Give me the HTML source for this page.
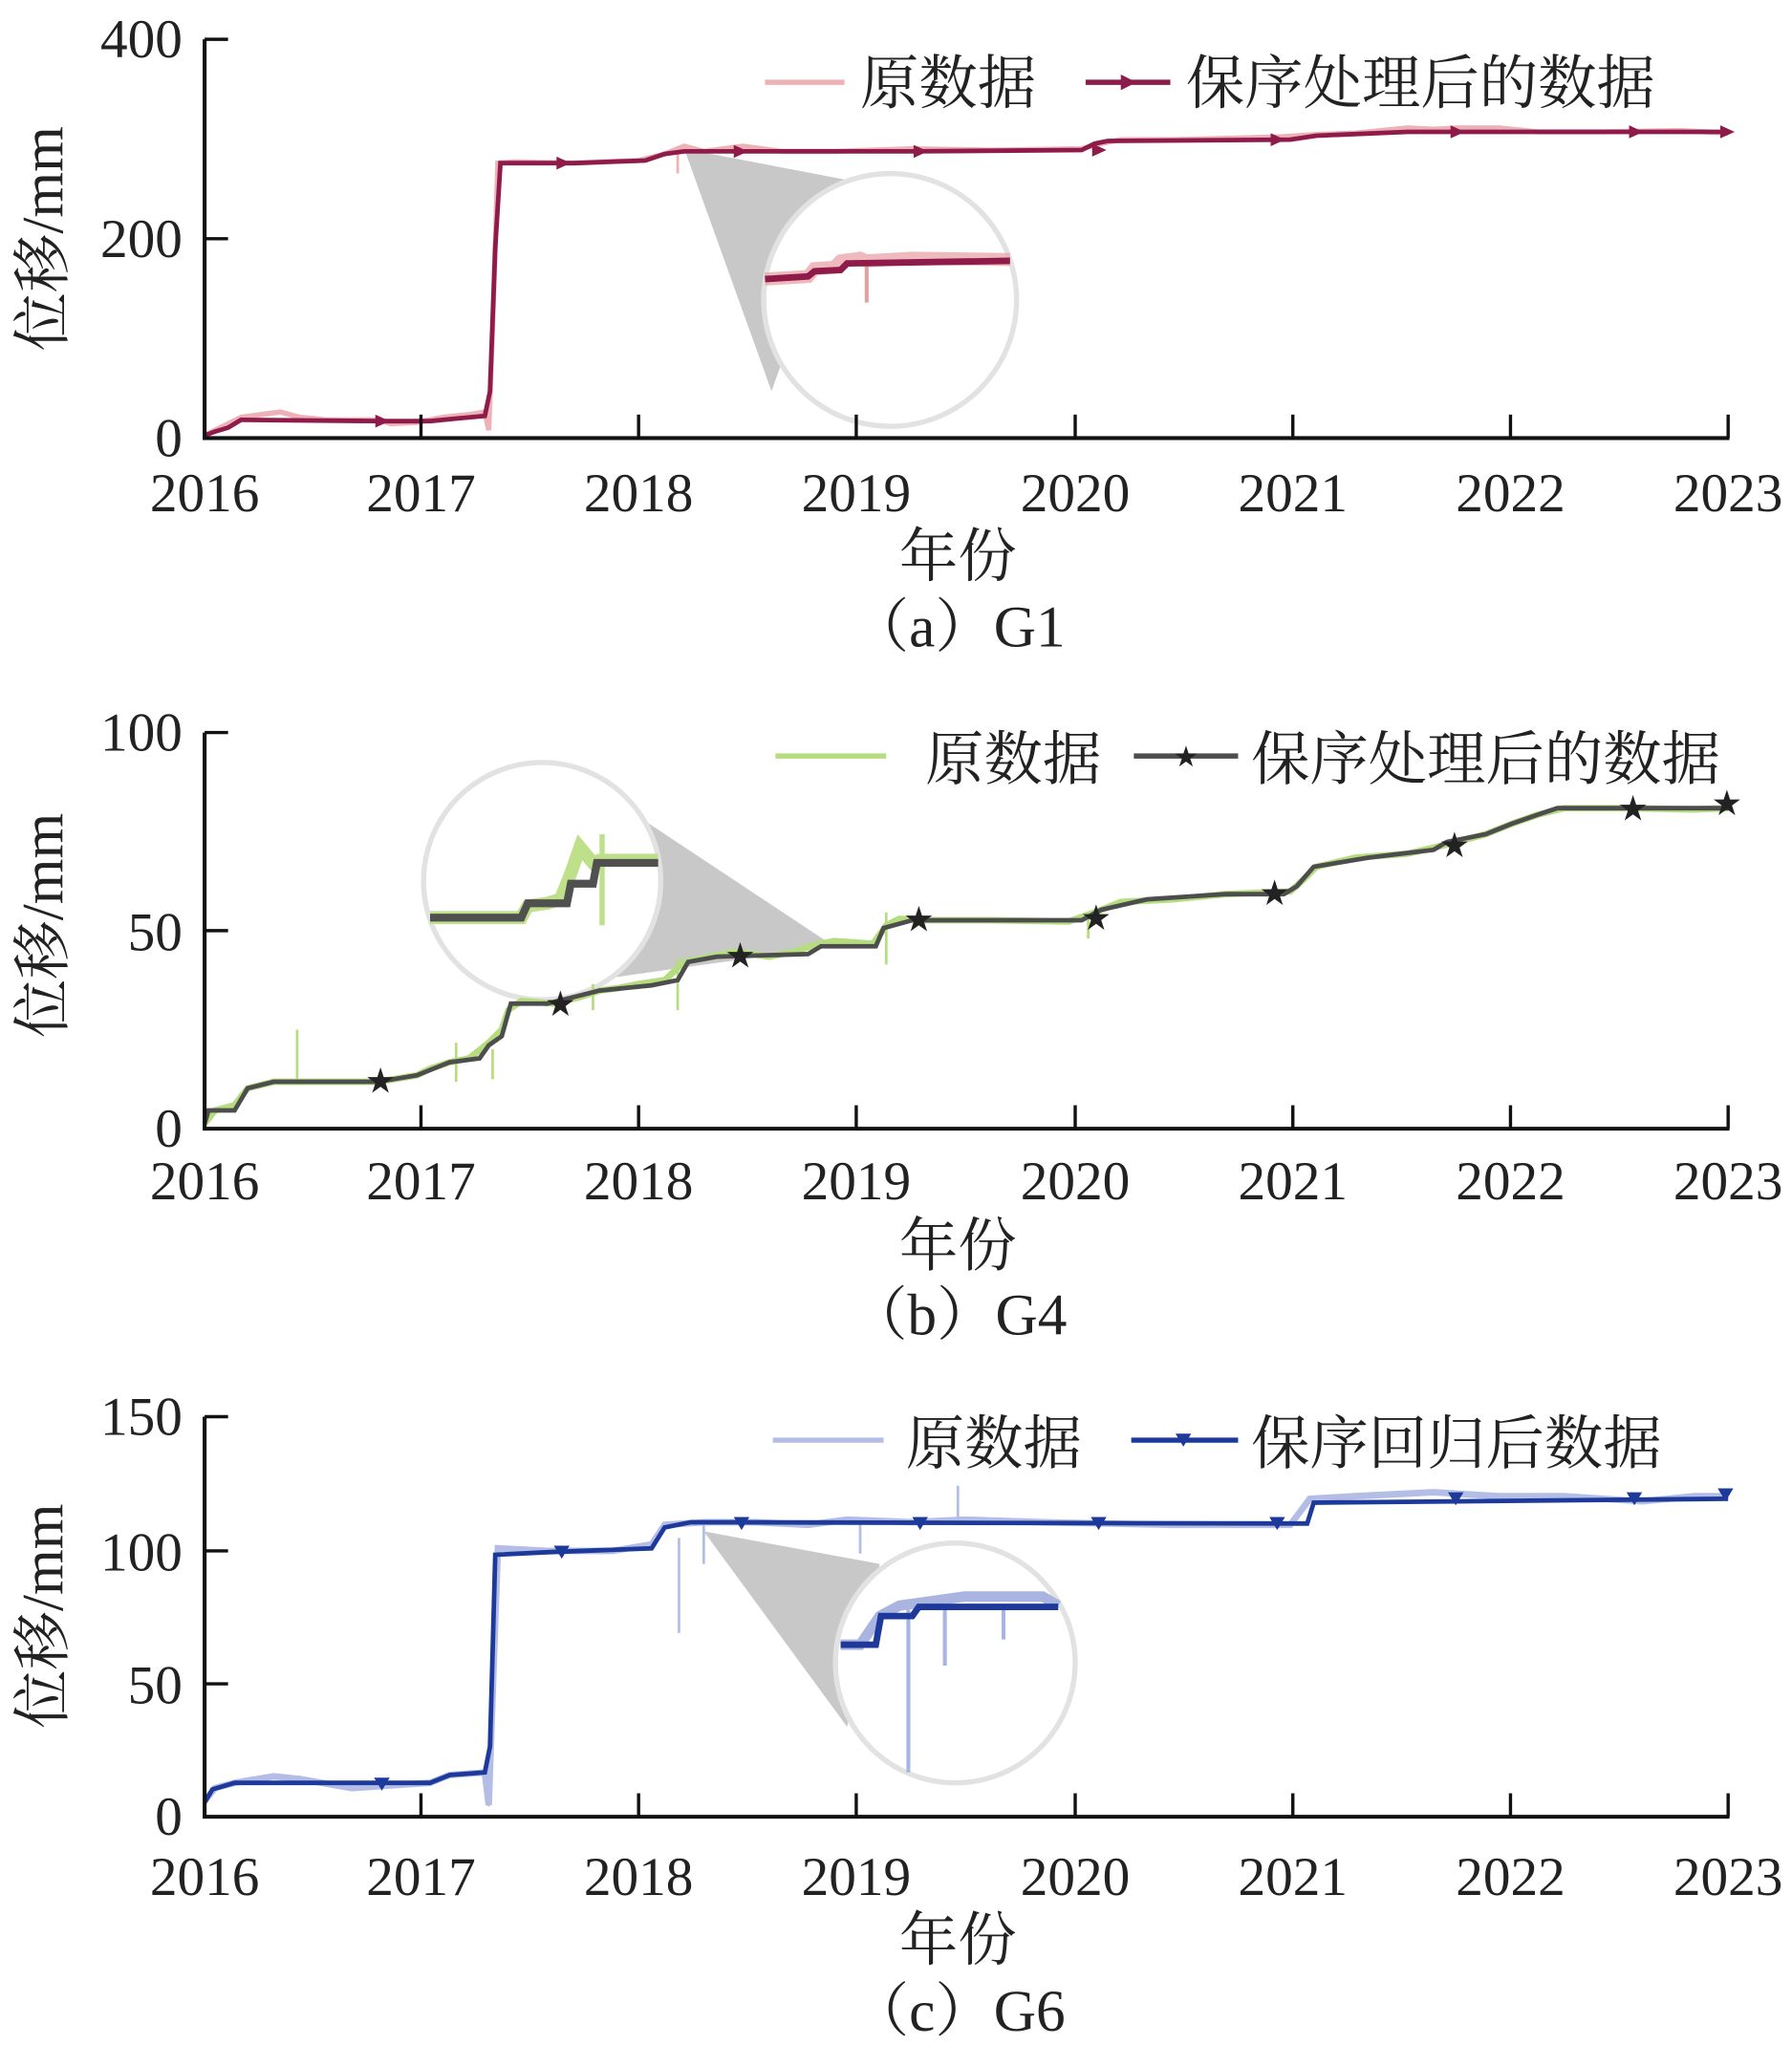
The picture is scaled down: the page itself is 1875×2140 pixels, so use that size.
<!DOCTYPE html>
<html><head><meta charset="utf-8"><style>
html,body{margin:0;padding:0;background:#fff}
svg{display:block}
text{font-family:"Liberation Serif","Noto Serif CJK SC",serif;fill:#222}
.t{font-size:42px}
.l{font-size:45px}
</style></head><body>
<svg width="1875" height="2140" viewBox="0 0 1375 1569" xmlns="http://www.w3.org/2000/svg">

<!-- ========== Panel a ========== -->
<g>
<polygon points="525,114 650,138 592,300" fill="#c8c8c8"/>
<circle cx="683" cy="230" r="97" fill="#fff" stroke="#e2e2e2" stroke-width="4"/>
<polyline points="587,214 620,212 625,206 640,205 645,200 660,198 665,200 700,198 775,199" fill="none" stroke="#eaa9ad" stroke-width="10" opacity="0.8"/>
<line x1="665" y1="200" x2="665" y2="232" stroke="#e0a0a4" stroke-width="3"/>
<polyline points="587,214 620,212 625,208 645,207 650,202 775,200" fill="none" stroke="#8e1b4a" stroke-width="5"/>
<polyline points="157,334 165,330 175,325 185,320 200,318 215,316 230,320 250,322 290,322 300,325 320,324 340,320 360,318 372,316 375,330 378,250 382,125 395,124 440,125 490,123 510,118 520,114 525,112 540,116 570,112 600,116 640,116 700,114 760,115 830,114 845,110 860,107 900,107 980,105 1010,103 1040,102 1080,98 1100,99 1120,98 1150,98 1180,101 1230,101 1290,100 1326,102" fill="none" stroke="#eeb2b6" stroke-width="4"/>
<line x1="520" y1="112" x2="520" y2="133" stroke="#eeb2b6" stroke-width="2"/>
<line x1="375" y1="310" x2="375" y2="330" stroke="#eeb2b6" stroke-width="2"/>
<polyline points="157,334 165,331 175,328 185,322 290,323 330,323 350,321 372,319 376,300 380,190 384,125 440,125 495,123 510,118 525,116 700,116 830,115 840,110 850,108 990,107 1010,104 1080,101 1326,101" fill="none" stroke="#8e1b4a" stroke-width="3.5"/>
<g fill="#8e1b4a">
<path d="M288,318 l11,5 l-11,5z"/><path d="M427,120 l11,5 l-11,5z"/><path d="M563,111 l11,5 l-11,5z"/><path d="M701,111 l11,5 l-11,5z"/><path d="M838,110 l11,5 l-11,5z"/><path d="M975,102 l11,5 l-11,5z"/><path d="M1113,96 l11,5 l-11,5z"/><path d="M1250,96 l11,5 l-11,5z"/><path d="M1320,96 l11,5 l-11,5z"/>
</g>
<path d="M157,30 V336 H1327" fill="none" stroke="#111" stroke-width="3"/>
<g stroke="#111" stroke-width="2.5"><line x1="157" y1="30" x2="175" y2="30"/><line x1="157" y1="183" x2="175" y2="183"/>
<line x1="323" y1="336" x2="323" y2="318"/><line x1="490" y1="336" x2="490" y2="318"/><line x1="657" y1="336" x2="657" y2="318"/><line x1="825" y1="336" x2="825" y2="318"/><line x1="992" y1="336" x2="992" y2="318"/><line x1="1159" y1="336" x2="1159" y2="318"/><line x1="1326" y1="336" x2="1326" y2="318"/></g>
<g class="t" text-anchor="end"><text x="140" y="44">400</text><text x="140" y="197">200</text><text x="140" y="350">0</text></g>
<g class="t" text-anchor="middle"><text x="157" y="392">2016</text><text x="323" y="392">2017</text><text x="490" y="392">2018</text><text x="657" y="392">2019</text><text x="825" y="392">2020</text><text x="992" y="392">2021</text><text x="1159" y="392">2022</text><text x="1326" y="392">2023</text></g>
<text class="l" x="735" y="442" text-anchor="middle">年份</text>
<text class="l" x="735" y="496" text-anchor="middle">（a）G1</text>
<text class="l" transform="translate(48,183) rotate(-90)" text-anchor="middle">位移/mm</text>
<line x1="587" y1="63" x2="648" y2="63" stroke="#eeb2b6" stroke-width="4"/>
<text class="l" x="660" y="79">原数据</text>
<line x1="833" y1="63" x2="898" y2="63" stroke="#8e1b4a" stroke-width="4"/><path d="M860,57 l12,6 l-12,6z" fill="#8e1b4a"/>
<text class="l" x="910" y="79">保序处理后的数据</text>
</g>

<!-- ========== Panel b ========== -->
<g>
<polygon points="640,726 480,620 470,750" fill="#c8c8c8"/>
<circle cx="416" cy="676" r="91" fill="#fff" stroke="#e2e2e2" stroke-width="4"/>
<polyline points="330,704 400,704 405,695 420,693 430,690 438,670 445,650 455,662 460,660 505,660" fill="none" stroke="#bfe08a" stroke-width="10"/>
<line x1="462" y1="640" x2="462" y2="710" stroke="#bfe08a" stroke-width="4"/>
<polyline points="330,704 400,704 405,693 435,693 438,678 455,678 458,662 505,662" fill="none" stroke="#505050" stroke-width="6"/>
<polyline points="157,862 165,852 180,848 190,835 210,830 250,830 290,830 320,825 330,820 345,815 360,812 375,800 385,790 390,775 400,768 425,770 445,765 460,760 475,758 490,755 510,752 525,738 545,734 565,730 590,734 610,730 625,725 640,722 670,724 680,710 690,705 710,706 760,706 820,707 840,700 860,692 900,690 940,686 990,684 1000,675 1010,665 1040,658 1080,655 1110,648 1140,640 1160,632 1180,625 1200,620 1250,620 1300,621 1326,620" fill="none" stroke="#b5dd80" stroke-width="5"/>
<g stroke="#b5dd80" stroke-width="2"><line x1="228" y1="790" x2="228" y2="830"/><line x1="350" y1="800" x2="350" y2="830"/><line x1="378" y1="805" x2="378" y2="828"/><line x1="455" y1="755" x2="455" y2="775"/><line x1="520" y1="735" x2="520" y2="775"/><line x1="680" y1="700" x2="680" y2="740"/><line x1="835" y1="700" x2="835" y2="720"/></g>
<polyline points="157,862 160,852 180,852 190,835 210,830 290,830 320,825 345,815 368,812 375,802 385,795 392,770 420,770 440,765 460,760 500,756 520,752 528,738 550,734 620,732 630,726 672,726 678,712 700,706 830,706 845,698 880,690 940,686 985,686 995,680 1008,665 1050,658 1100,652 1110,646 1140,640 1160,632 1180,625 1195,620 1326,620" fill="none" stroke="#4d4d4d" stroke-width="3.5"/>
<g font-size="22" text-anchor="middle" style="font-family:'DejaVu Sans'"><text x="292" y="837" fill="#4d4d4d">★</text><text x="430" y="778" fill="#4d4d4d">★</text><text x="568" y="741" fill="#4d4d4d">★</text><text x="705" y="713" fill="#4d4d4d">★</text><text x="841" y="712" fill="#4d4d4d">★</text><text x="978" y="693" fill="#4d4d4d">★</text><text x="1116" y="656" fill="#4d4d4d">★</text><text x="1253" y="628" fill="#4d4d4d">★</text><text x="1325" y="624" fill="#4d4d4d">★</text></g>
<path d="M157,562 V866 H1327" fill="none" stroke="#111" stroke-width="3"/>
<g stroke="#111" stroke-width="2.5"><line x1="157" y1="562" x2="175" y2="562"/><line x1="157" y1="714" x2="175" y2="714"/>
<line x1="323" y1="866" x2="323" y2="848"/><line x1="490" y1="866" x2="490" y2="848"/><line x1="657" y1="866" x2="657" y2="848"/><line x1="825" y1="866" x2="825" y2="848"/><line x1="992" y1="866" x2="992" y2="848"/><line x1="1159" y1="866" x2="1159" y2="848"/><line x1="1326" y1="866" x2="1326" y2="848"/></g>
<g class="t" text-anchor="end"><text x="140" y="576">100</text><text x="140" y="729">50</text><text x="140" y="880">0</text></g>
<g class="t" text-anchor="middle"><text x="157" y="920">2016</text><text x="323" y="920">2017</text><text x="490" y="920">2018</text><text x="657" y="920">2019</text><text x="825" y="920">2020</text><text x="992" y="920">2021</text><text x="1159" y="920">2022</text><text x="1326" y="920">2023</text></g>
<text class="l" x="735" y="971" text-anchor="middle">年份</text>
<text class="l" x="735" y="1024" text-anchor="middle">（b）G4</text>
<text class="l" transform="translate(48,710) rotate(-90)" text-anchor="middle">位移/mm</text>
<line x1="595" y1="580" x2="680" y2="580" stroke="#b5dd80" stroke-width="4"/>
<text class="l" x="710" y="598">原数据</text>
<line x1="870" y1="580" x2="950" y2="580" stroke="#4d4d4d" stroke-width="4"/><text x="910" y="588" font-size="22" text-anchor="middle" style="font-family:'DejaVu Sans'" fill="#4d4d4d">★</text>
<text class="l" x="960" y="598">保序处理后的数据</text>
</g>

<!-- ========== Panel c ========== -->
<g>
<polygon points="540,1175 675,1200 650,1325" fill="#c8c8c8"/>
<circle cx="733" cy="1276" r="92" fill="#fff" stroke="#e2e2e2" stroke-width="4"/>
<polyline points="645,1262 660,1262 675,1240 690,1232 740,1225 800,1225 812,1232" fill="none" stroke="#a9b4e0" stroke-width="8"/>
<g stroke="#a9b4e0" stroke-width="3"><line x1="697" y1="1235" x2="697" y2="1360"/><line x1="725" y1="1235" x2="725" y2="1278"/><line x1="770" y1="1232" x2="770" y2="1258"/></g>
<polyline points="645,1262 672,1262 676,1240 700,1240 705,1233 812,1233" fill="none" stroke="#1d3a9a" stroke-width="5"/>
<polyline points="157,1382 165,1372 180,1368 210,1363 230,1365 270,1372 300,1370 330,1368 345,1362 372,1360 375,1385 378,1300 382,1188 420,1190 470,1190 500,1185 510,1170 540,1168 580,1168 620,1170 650,1166 700,1168 740,1166 800,1168 900,1170 990,1170 1005,1150 1040,1148 1100,1145 1150,1148 1200,1148 1260,1152 1300,1148 1326,1148" fill="none" stroke="#b4bde6" stroke-width="5"/>
<g stroke="#b4bde6" stroke-width="2"><line x1="521" y1="1180" x2="521" y2="1253"/><line x1="540" y1="1170" x2="540" y2="1200"/><line x1="660" y1="1170" x2="660" y2="1192"/><line x1="735" y1="1140" x2="735" y2="1170"/><line x1="375" y1="1360" x2="375" y2="1386"/></g>
<polyline points="157,1383 163,1373 180,1368 330,1368 345,1362 372,1360 376,1340 380,1193 420,1191 500,1188 510,1172 530,1168 1003,1169 1008,1153 1326,1150" fill="none" stroke="#1d3a9a" stroke-width="3.5"/>
<g fill="#1d3a9a"><path d="M287,1364 h12 l-6,10z"/><path d="M425,1186 h12 l-6,10z"/><path d="M563,1164 h12 l-6,10z"/><path d="M700,1164 h12 l-6,10z"/><path d="M837,1164 h12 l-6,10z"/><path d="M974,1164 h12 l-6,10z"/><path d="M1111,1145 h12 l-6,10z"/><path d="M1248,1145 h12 l-6,10z"/><path d="M1318,1142 h12 l-6,10z"/></g>
<path d="M157,1087 V1394 H1327" fill="none" stroke="#111" stroke-width="3"/>
<g stroke="#111" stroke-width="2.5"><line x1="157" y1="1087" x2="175" y2="1087"/><line x1="157" y1="1190" x2="175" y2="1190"/><line x1="157" y1="1292" x2="175" y2="1292"/>
<line x1="323" y1="1394" x2="323" y2="1376"/><line x1="490" y1="1394" x2="490" y2="1376"/><line x1="657" y1="1394" x2="657" y2="1376"/><line x1="825" y1="1394" x2="825" y2="1376"/><line x1="992" y1="1394" x2="992" y2="1376"/><line x1="1159" y1="1394" x2="1159" y2="1376"/><line x1="1326" y1="1394" x2="1326" y2="1376"/></g>
<g class="t" text-anchor="end"><text x="140" y="1101">150</text><text x="140" y="1205">100</text><text x="140" y="1307">50</text><text x="140" y="1408">0</text></g>
<g class="t" text-anchor="middle"><text x="157" y="1454">2016</text><text x="323" y="1454">2017</text><text x="490" y="1454">2018</text><text x="657" y="1454">2019</text><text x="825" y="1454">2020</text><text x="992" y="1454">2021</text><text x="1159" y="1454">2022</text><text x="1326" y="1454">2023</text></g>
<text class="l" x="735" y="1504" text-anchor="middle">年份</text>
<text class="l" x="735" y="1558" text-anchor="middle">（c）G6</text>
<text class="l" transform="translate(48,1240) rotate(-90)" text-anchor="middle">位移/mm</text>
<line x1="593" y1="1105" x2="678" y2="1105" stroke="#b4bde6" stroke-width="4"/>
<text class="l" x="695" y="1123">原数据</text>
<line x1="868" y1="1105" x2="950" y2="1105" stroke="#1d3a9a" stroke-width="4"/><path d="M902,1100 h12 l-6,10z" fill="#1d3a9a"/>
<text class="l" x="960" y="1123">保序回归后数据</text>
</g>
</svg>
</body></html>
